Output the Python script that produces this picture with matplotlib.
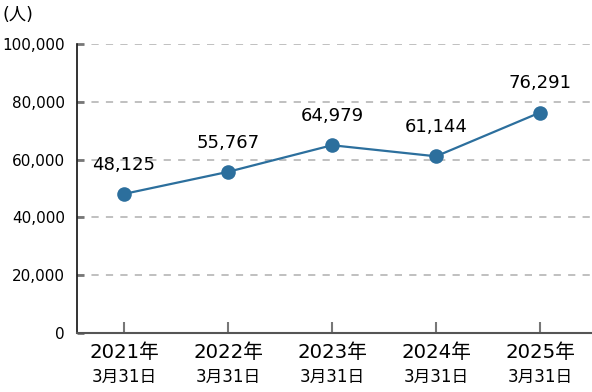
import matplotlib
matplotlib.use('Agg')
import matplotlib.pyplot as plt
from matplotlib.ticker import FuncFormatter

plt.rcParams['font.family'] = ['DejaVu Sans', 'Noto Sans CJK JP']

# data
years = ['2021年', '2022年', '2023年', '2024年', '2025年']
dates = ['3月31日', '3月31日', '3月31日', '3月31日', '3月31日']
people = [48125, 55767, 64979, 61144, 76291]
y_ticks = [0, 20000, 40000, 60000, 80000, 100000]

line_color = '#2c6f9d'

fig = plt.figure(figsize=(5.92, 3.92), dpi=100)
ax = fig.add_axes([0.1296, 0.1505, 0.8704, 0.7372])

xs = list(range(len(people)))
ax.plot(xs, people, color=line_color, lw=1.6, marker='o', markersize=10.5,
        markeredgewidth=0, zorder=3, clip_on=False)

for x, v in zip(xs, people):
    ax.annotate(f'{v:,}', (x, v), xytext=(0, 21), textcoords='offset points',
                ha='center', va='center', fontsize=13, color='black')

ax.set_xlim(-0.455, 4.5)
ax.set_ylim(0, 100000)
ax.set_yticks(y_ticks)
ax.yaxis.set_major_formatter(FuncFormatter(lambda v, p: f'{int(v):,}'))
ax.set_xticks(xs)
ax.set_xticklabels(years)

# grid
for t in y_ticks[1:]:
    ax.axhline(t, color='#bbbbbb', lw=1.3, dashes=(4, 4), zorder=1)

for s in ['top', 'right']:
    ax.spines[s].set_visible(False)
ax.spines['left'].set_color('#111111')
ax.spines['left'].set_linewidth(1.2)
ax.spines['bottom'].set_color('#555555')
ax.spines['bottom'].set_linewidth(1.5)

ax.tick_params(axis='y', direction='in', length=5, width=2, color='#777777',
               labelsize=11, pad=8.5, labelcolor='black')
ax.tick_params(axis='x', direction='in', length=8, width=1.5, color='#777777',
               labelsize=14.2, pad=7.5, labelcolor='black')

for x, d in zip(xs, dates):
    ax.annotate(d, (x, 0), xycoords=ax.get_xaxis_transform(), xytext=(0, -31.5),
                textcoords='offset points', ha='center', va='center',
                fontsize=12, color='black')

fig.text(0.004, 0.963, '(人)', fontsize=12.5, ha='left', va='center', color='black')

fig.savefig('out.png', dpi=100)
